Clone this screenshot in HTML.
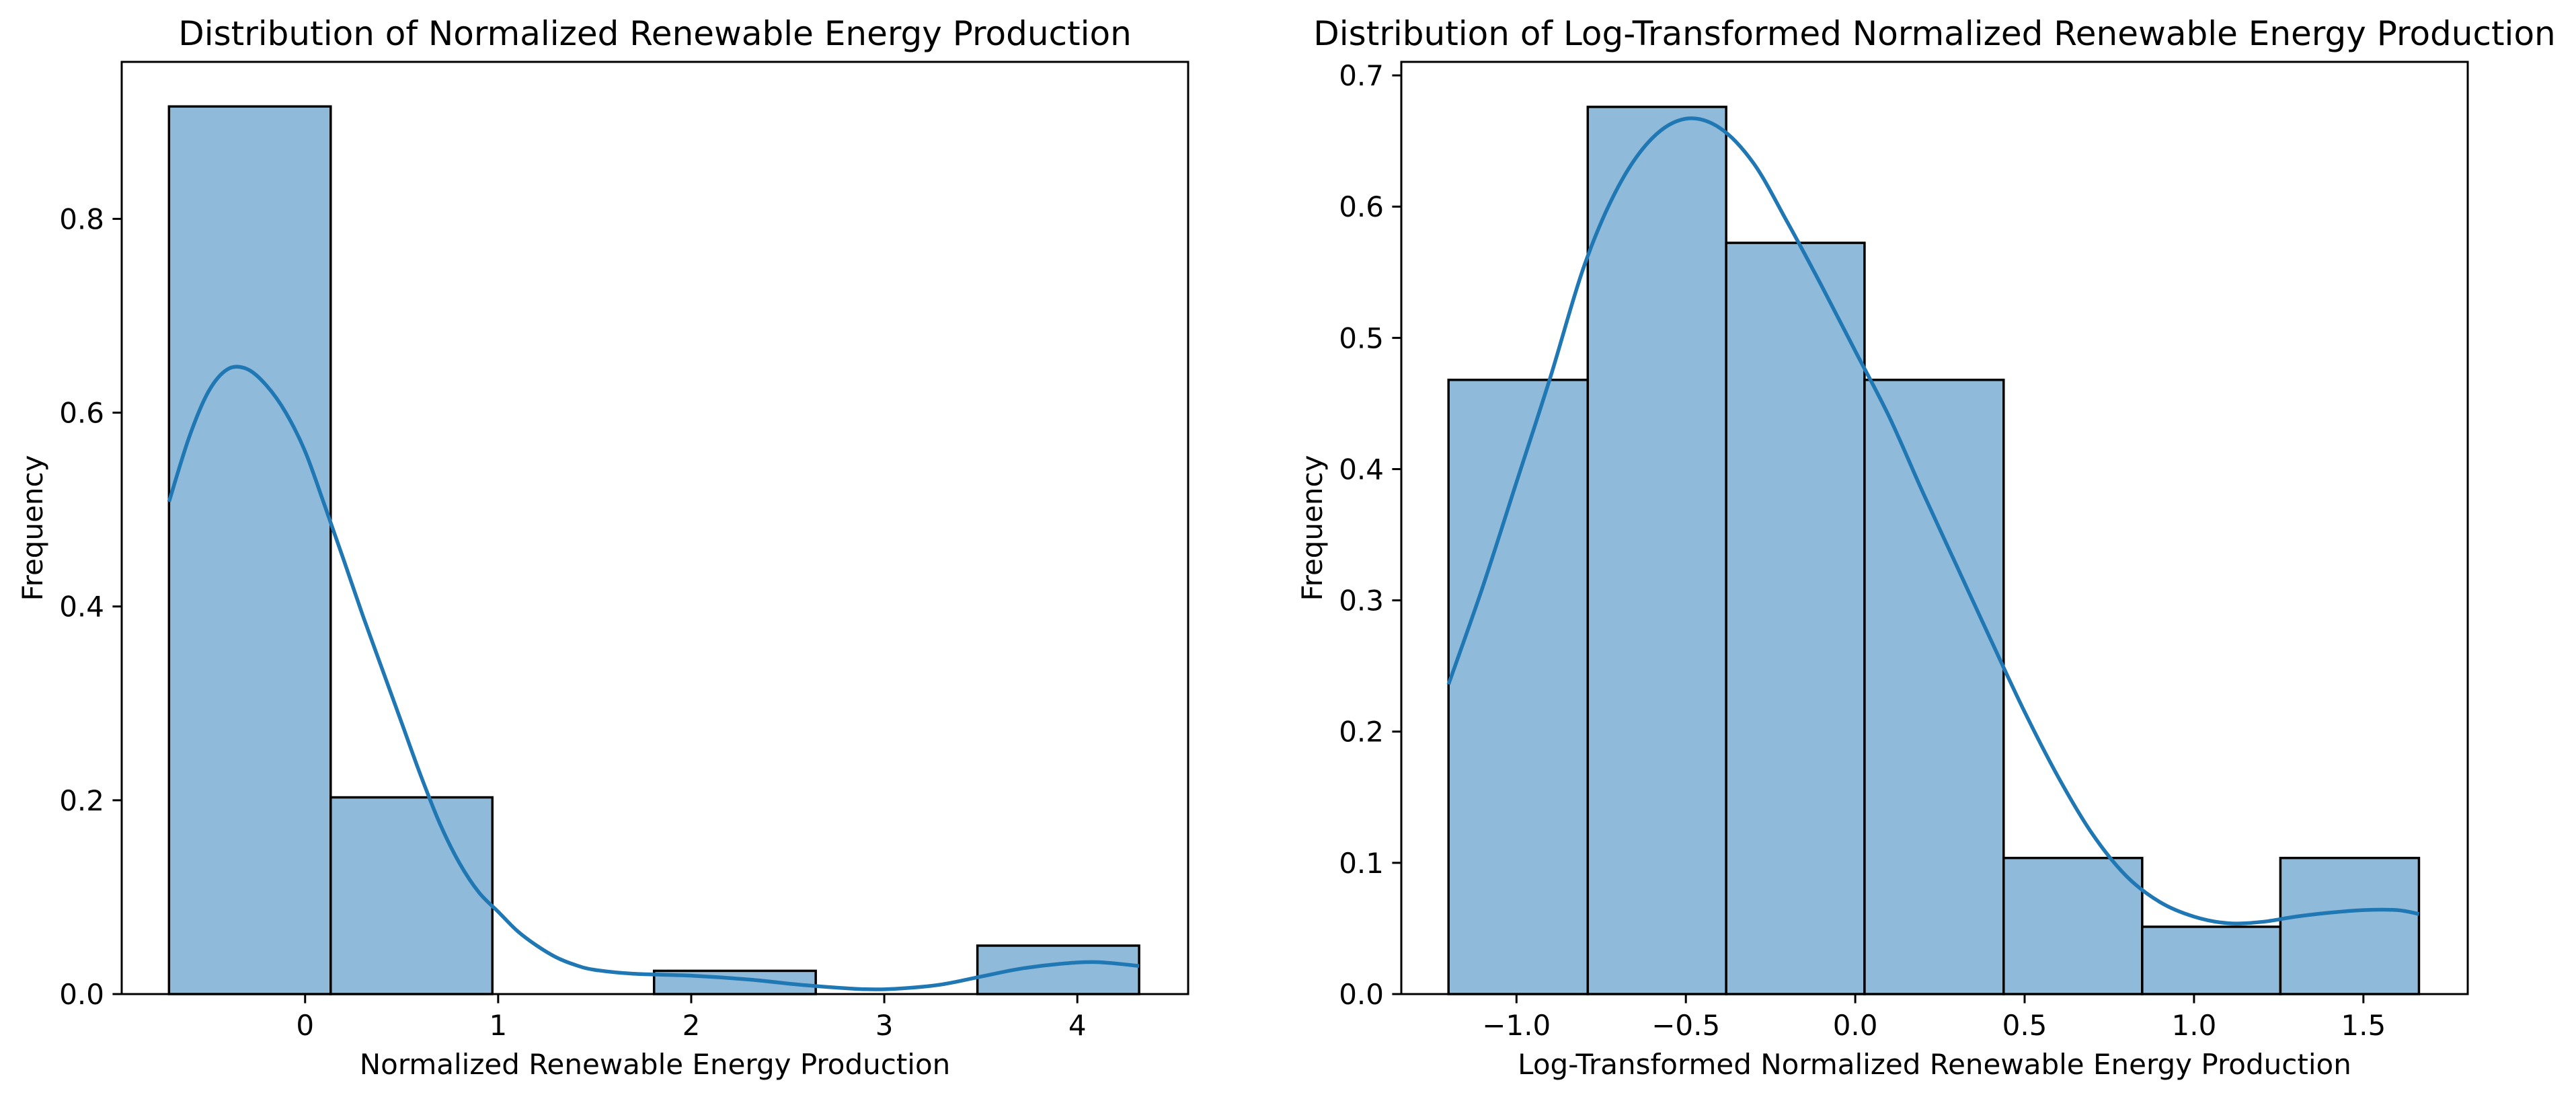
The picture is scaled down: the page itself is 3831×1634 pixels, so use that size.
<!DOCTYPE html>
<html><head><meta charset="utf-8"><style>
html,body{margin:0;padding:0;background:#fff;}
svg{display:block;}
text{font-family:"DejaVu Sans","Liberation Sans",sans-serif;fill:#000;}
</style></head><body>
<svg id="fig" width="3831" height="1634" viewBox="0 0 3831 1634" xmlns="http://www.w3.org/2000/svg"></svg>
<script>
// Left chart data
const leftEdges = [-0.705, 0.1325, 0.97, 1.8075, 2.645, 3.4825, 4.32];
const leftHeights = [0.916, 0.203, 0, 0.024, 0, 0.050];
const leftKdeX = [-0.705,-0.6,-0.5,-0.4,-0.3,-0.2,-0.1,0.0,0.1,0.2,0.3,0.4,0.5,0.6,0.7,0.8,0.9,1.0,1.1,1.2,1.3,1.4,1.5,1.7,2.0,2.3,2.6,2.9,3.1,3.3,3.5,3.7,3.9,4.1,4.32];
const leftKdeY = [0.508,0.575,0.622,0.645,0.645,0.628,0.60,0.56,0.505,0.448,0.39,0.335,0.28,0.225,0.175,0.135,0.105,0.085,0.065,0.05,0.038,0.03,0.025,0.021,0.019,0.015,0.009,0.005,0.006,0.01,0.018,0.026,0.031,0.033,0.029];
const leftXTicks = [0,1,2,3,4];
const leftXTickLabels = ["0","1","2","3","4"];
const leftYTicks = [0,0.2,0.4,0.6,0.8];
const leftYTickLabels = ["0.0","0.2","0.4","0.6","0.8"];
// Right chart data
const rightEdges = [-1.2006,-0.7896,-0.381,0.0274,0.438,0.847,1.255,1.664];
const rightHeights = [0.468,0.676,0.5724,0.468,0.1037,0.0513,0.1037];
const rightKdeX = [-1.2006,-1.1,-1.0,-0.9,-0.8,-0.7,-0.6,-0.5,-0.4,-0.3,-0.2,-0.1,0.0,0.1,0.2,0.3,0.4,0.5,0.6,0.7,0.8,0.9,1.0,1.1,1.2,1.3,1.4,1.5,1.6,1.664];
const rightKdeY = [0.236,0.31,0.39,0.47,0.555,0.615,0.652,0.667,0.66,0.633,0.588,0.54,0.49,0.44,0.382,0.326,0.27,0.215,0.165,0.122,0.09,0.07,0.059,0.054,0.055,0.059,0.062,0.064,0.064,0.061];
const rightXTicks = [-1.0,-0.5,0.0,0.5,1.0,1.5];
const rightXTickLabels = ["\u22121.0","\u22120.5","0.0","0.5","1.0","1.5"];
const rightYTicks = [0,0.1,0.2,0.3,0.4,0.5,0.6,0.7];
const rightYTickLabels = ["0.0","0.1","0.2","0.3","0.4","0.5","0.6","0.7"];

const NS="http://www.w3.org/2000/svg";
const svg=document.getElementById('fig');
function mk(tag,attrs,parent){const e=document.createElementNS(NS,tag);for(const k in attrs)e.setAttribute(k,attrs[k]);(parent||svg).appendChild(e);return e;}

function drawChart(cfg){
  const g=mk('g',{});
  
  
  const L=cfg.left,R=cfg.right,T=92,B=1478;
  const sx=v=>L+(v-cfg.xmin)/(cfg.xmax-cfg.xmin)*(R-L);
  const sy=v=>B-(v-0)/(cfg.ymax-0)*(B-T);
  for(let i=0;i<cfg.heights.length;i++){
    if(cfg.heights[i]<=0) continue;
    const x0=sx(cfg.edges[i]),x1=sx(cfg.edges[i+1]),y=sy(cfg.heights[i]);
    const r=mk('rect',{x:x0,y:y,width:x1-x0,height:B-y,fill:'#8fbad9',stroke:'#000','stroke-width':3.5},g);
    
    
  }
  let d='';
  for(let i=0;i<cfg.kx.length;i++){
    const px=sx(cfg.kx[i]),py=sy(cfg.ky[i]);
    if(i===0){d+='M'+px+' '+py;}
    else{
      const p0=i>1?[sx(cfg.kx[i-2]),sy(cfg.ky[i-2])]:[sx(cfg.kx[i-1]),sy(cfg.ky[i-1])];
      const p1=[sx(cfg.kx[i-1]),sy(cfg.ky[i-1])];
      const p3=i<cfg.kx.length-1?[sx(cfg.kx[i+1]),sy(cfg.ky[i+1])]:[px,py];
      const c1=[p1[0]+(px-p0[0])/6,p1[1]+(py-p0[1])/6];
      const c2=[px-(p3[0]-p1[0])/6,py-(p3[1]-p1[1])/6];
      d+=' C'+c1[0]+' '+c1[1]+' '+c2[0]+' '+c2[1]+' '+px+' '+py;
    }
  }
  const kde=mk('path',{d:d,fill:'none',stroke:'#1f77b4','stroke-width':5.5,'stroke-linecap':'butt','stroke-linejoin':'round'},g);
  
  
  const fr=mk('rect',{x:L,y:T,width:R-L,height:B-T,fill:'none',stroke:'#000','stroke-width':3},g);
  
  
  cfg.xt.forEach((v,i)=>{
    const x=sx(v);
    const tk=mk('line',{x1:x,y1:B,x2:x,y2:B+13.6,stroke:'#000','stroke-width':3},g);
    
    
    const t=mk('text',{x:x,y:1539,'font-size':42,'text-anchor':'middle'},g);
    t.textContent=cfg.xtl[i];
    
    
  });
  cfg.yt.forEach((v,i)=>{
    const y=sy(v);
    const tk=mk('line',{x1:L,y1:y,x2:L-13.6,y2:y,stroke:'#000','stroke-width':3},g);
    
    
    const t=mk('text',{x:L-26,y:y+15,'font-size':42,'text-anchor':'end'},g);
    t.textContent=cfg.ytl[i];
    
    
  });
  const xl=mk('text',{x:(L+R)/2,y:1597,'font-size':42,'text-anchor':'middle'},g);
  xl.textContent=cfg.xlabel;
  
  
  const yl=mk('text',{x:0,y:0,'font-size':42,'text-anchor':'middle',transform:'translate('+(cfg.left-118)+','+((T+B)/2)+') rotate(-90)'},g);
  yl.textContent='Frequency';
  
  
  const ti=mk('text',{x:(L+R)/2,y:67,'font-size':50,'text-anchor':'middle'},g);
  ti.textContent=cfg.title;
  
  
}

drawChart({name:'left-chart',left:181,right:1767,xmin:-0.950,xmax:4.574,ymax:0.962,
  edges:leftEdges,heights:leftHeights,kx:leftKdeX,ky:leftKdeY,xt:leftXTicks,xtl:leftXTickLabels,yt:leftYTicks,ytl:leftYTickLabels,
  xlabel:'Normalized Renewable Energy Production',title:'Distribution of Normalized Renewable Energy Production'});
drawChart({name:'right-chart',left:2084,right:3670,xmin:-1.340,xmax:1.808,ymax:0.7103,
  edges:rightEdges,heights:rightHeights,kx:rightKdeX,ky:rightKdeY,xt:rightXTicks,xtl:rightXTickLabels,yt:rightYTicks,ytl:rightYTickLabels,
  xlabel:'Log-Transformed Normalized Renewable Energy Production',title:'Distribution of Log-Transformed Normalized Renewable Energy Production'});
</script>
</body></html>
